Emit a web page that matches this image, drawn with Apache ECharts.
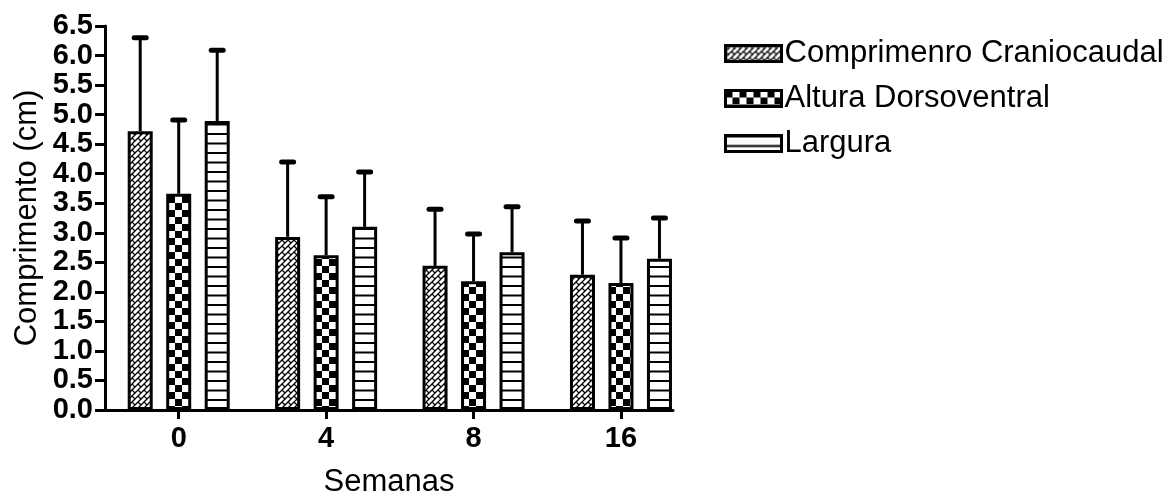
<!DOCTYPE html>
<html>
<head>
<meta charset="utf-8">
<script src="https://cdn.jsdelivr.net/npm/echarts@6/dist/echarts.min.js"></script>
<style>
html,body{margin:0;padding:0;background:#fff;}
#chart{width:1174px;height:496px;}
</style>
</head>
<body>
<div id="chart"></div>
<script>
// ---- data ----
const categories = ['0', '4', '8', '16'];
const seriesNames = ['Comprimenro Craniocaudal', 'Altura Dorsoventral', 'Largura'];
const meanCC = [4.72, 2.93, 2.44, 2.29];
const sdCC   = [1.58, 1.27, 0.96, 0.91];
const meanAD = [3.66, 2.62, 2.18, 2.15];
const sdAD   = [1.25, 0.99, 0.80, 0.76];
const meanL  = [4.89, 3.10, 2.67, 2.56];
const sdL    = [1.20, 0.93, 0.77, 0.69];
const yTicks = ['0.0','0.5','1.0','1.5','2.0','2.5','3.0','3.5','4.0','4.5','5.0','5.5','6.0','6.5'];

// ---- patterns ----
function makeHatch() {
  const P = 12;
  const c = document.createElement('canvas'); c.width = P; c.height = P;
  const g = c.getContext('2d');
  g.fillStyle = '#fff'; g.fillRect(0, 0, P, P);
  g.strokeStyle = '#000'; g.lineWidth = 1.3;
  for (let s = -2 * P; s <= 3 * P; s += P / 2) {
    g.beginPath(); g.moveTo(s + 3 * P, -3 * P); g.lineTo(s - 3 * P, 3 * P); g.stroke();
  }
  g.lineWidth = 1.2;
  for (let k = -6; k <= 6; k++) {
    const s1 = k * P / 2, s2 = (k + 1) * P / 2;
    const c0 = (Math.abs(k) % 2 === 0) ? 0 : P / 2;
    for (let m = -3; m <= 3; m++) {
      const cc = c0 + m * P;
      g.beginPath();
      g.moveTo((s1 + cc) / 2, (s1 - cc) / 2);
      g.lineTo((s2 + cc) / 2, (s2 - cc) / 2);
      g.stroke();
    }
  }
  return c;
}
function makeChecker() {
  const s = 7;
  const c = document.createElement('canvas'); c.width = 2 * s; c.height = 2 * s;
  const g = c.getContext('2d');
  g.fillStyle = '#fff'; g.fillRect(0, 0, 2 * s, 2 * s);
  g.fillStyle = '#000'; g.fillRect(0, 0, s, s); g.fillRect(s, s, s, s);
  return c;
}
function makeLines() {
  const c = document.createElement('canvas'); c.width = 4; c.height = 19;
  const g = c.getContext('2d');
  g.fillStyle = '#fff'; g.fillRect(0, 0, 4, 19);
  g.fillStyle = '#000'; g.fillRect(0, 0, 4, 2); g.fillRect(0, 9.5, 4, 2);
  return c;
}
const fills = [
  { image: makeHatch(), repeat: 'repeat' },
  { image: makeChecker(), repeat: 'repeat' },
  { image: makeLines(), repeat: 'repeat' }
];

const means = [meanCC, meanAD, meanL];
const sds = [sdCC, sdAD, sdL];

const BAR_W = 25, BAR_GAP = 0.54;
const STEP = BAR_W * (1 + BAR_GAP);
const FONT = '"Liberation Sans", Arial, Helvetica, sans-serif';

const series = [];
means.forEach((m, k) => {
  series.push({
    name: seriesNames[k],
    type: 'bar',
    barWidth: BAR_W,
    barGap: (BAR_GAP * 100) + '%',
    data: m.map((v, i) => [i, v]),
    itemStyle: { color: fills[k], borderColor: '#000', borderWidth: 3 },
    emphasis: { disabled: true },
    z: 2
  });
});
means.forEach((m, k) => {
  series.push({
    type: 'custom',
    name: seriesNames[k] + ' err',
    data: m.map((v, i) => [i, v, v + sds[k][i]]),
    renderItem: function (params, api) {
      const p0 = api.coord([api.value(0), api.value(1)]);
      const p1 = api.coord([api.value(0), api.value(2)]);
      const x = p0[0] + (k - 1) * STEP;
      return {
        type: 'group',
        children: [
          { type: 'line', shape: { x1: x, y1: p0[1], x2: x, y2: p1[1] },
            style: { stroke: '#000', lineWidth: 3 } },
          { type: 'line', shape: { x1: x - 6, y1: p1[1], x2: x + 6, y2: p1[1] },
            style: { stroke: '#000', lineWidth: 5, lineCap: 'round' } }
        ]
      };
    },
    z: 1,
    silent: true
  });
});

const chart = echarts.init(document.getElementById('chart'), null, { renderer: 'canvas' });
chart.setOption({
  animation: false,
  backgroundColor: '#fff',
  grid: { left: 105, top: 26, right: 501, bottom: 86, containLabel: false, outerBoundsMode: 'none' },
  legend: {
    data: seriesNames,
    orient: 'vertical',
    left: 719,
    top: 33,
    itemWidth: 56,
    itemHeight: 16,
    itemGap: 14,
    icon: 'rect',
    selectedMode: false,
    textStyle: { fontFamily: FONT, fontSize: 31, color: '#000', padding: [0, 0, 0, -2] },
    itemStyle: { borderColor: '#000', borderWidth: 3 }
  },
  xAxis: {
    type: 'value',
    min: -0.5,
    max: 3.353,
    name: 'Semanas',
    nameLocation: 'middle',
    nameGap: 57,
    nameTextStyle: { fontFamily: FONT, fontSize: 31, color: '#000' },
    axisLine: { show: true, onZero: false, lineStyle: { color: '#000', width: 3 } },
    axisTick: { show: true, customValues: [0, 1, 2, 3], length: 9, lineStyle: { color: '#000', width: 3 } },
    axisLabel: {
      customValues: [0, 1, 2, 3],
      formatter: v => categories[Math.round(v)],
      fontFamily: FONT, fontSize: 29, fontWeight: 'bold', color: '#000', margin: 14
    },
    splitLine: { show: false }
  },
  yAxis: {
    type: 'value',
    min: 0,
    max: 6.5,
    interval: 0.5,
    name: 'Comprimento (cm)',
    nameLocation: 'middle',
    nameGap: 62,
    nameTextStyle: { fontFamily: FONT, fontSize: 31, color: '#000' },
    axisLine: { show: true, onZero: false, lineStyle: { color: '#000', width: 3 } },
    axisTick: { show: true, length: 10, lineStyle: { color: '#000', width: 3 } },
    axisLabel: {
      formatter: v => yTicks[Math.round(v * 2)],
      fontFamily: FONT, fontSize: 29, fontWeight: 'bold', color: '#000', margin: 12
    },
    splitLine: { show: false }
  },
  series: series
});
</script>
</body>
</html>
